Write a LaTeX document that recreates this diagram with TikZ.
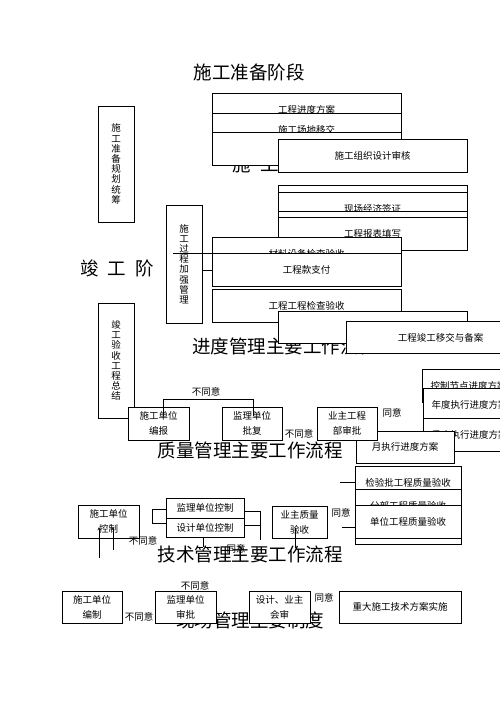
\documentclass[tikz,border=0pt]{standalone}
\usepackage{fontspec}
\setmainfont{Noto Sans CJK SC}
\begin{document}
\begin{tikzpicture}[x=1pt,y=-1pt,
    box/.style={draw, rectangle, fill=white, inner sep=0pt, align=center, line width=0.5pt, font=\fontsize{9.5}{15}\selectfont},
    lbox/.style={box, align=left, text width=172pt, inner xsep=8.5pt, minimum height=33pt},
    vbox/.style={box, minimum width=36pt, font=\fontsize{9.5}{10.2}\selectfont},
    title/.style={inner sep=0pt, font=\fontsize{18.5}{20}\selectfont},
    note/.style={inner sep=0pt, font=\fontsize{9.5}{11}\selectfont}]
    \useasboundingbox (0,0) rectangle (500,706);
    \clip (0,0) rectangle (500,706);

    % titles (under the boxes)
    \node[title] (t0) at (249,72) {施工准备阶段};
    \node[title, anchor=west] (t1) at (232,164) {施\hspace{10pt}工\hspace{10pt}阶\hspace{10pt}段};
    \node[title, anchor=west] (t2) at (80,268) {竣\hspace{9pt}工\hspace{9pt}阶};
    \node[title, anchor=west] (t3) at (192,346) {进度管理主要工作流程};
    \node[title] (t4) at (250,450) {质量管理主要工作流程};
    \node[note] (ty5) at (236,549) {同意};
    \node[title] (t5) at (250,554) {技术管理主要工作流程};
    \node[title] (t6) at (250,620) {现场管理主要制度};

    % preparation stage
    \node[box, minimum width=189pt, minimum height=33pt] (gcjd) at (306.5,109.5) {工程进度方案};
    \node[box, minimum width=189pt, minimum height=33pt] (sgcd) at (306.5,129.5) {施工场地移交};
    \node[box, minimum width=189pt, minimum height=33pt] (tzhs) at (306.5,148.5) {};
    \node[box, minimum width=189pt, minimum height=33pt] (sgzz) at (372.5,155.5) {施工组织设计审核};

    % construction stage
    \node[box, minimum width=189pt, minimum height=33pt] (kb1) at (372.5,201.5) {};
    \node[box, minimum width=189pt, minimum height=33pt] (xcjj) at (372.5,208.5) {现场经济签证};
    \node[box, minimum width=189pt, minimum height=33pt] (kb2) at (372.5,227.5) {};
    \node[box, minimum width=189pt, minimum height=33pt] (gcbb) at (372.5,233.5) {工程报表填写};
    \node[box, minimum width=189pt, minimum height=33pt] (clsb) at (306.5,253.5) {材料设备检查验收};
    \node[box, minimum width=189pt, minimum height=33pt] (gck) at (306.5,270) {工程款支付};
    \node[box, minimum width=189pt, minimum height=33pt] (gcjc) at (306.5,306) {工程工程检查验收};
    \node[box, minimum width=189pt, minimum height=32pt] (kb3) at (372.5,327.5) {};
    \node[box, minimum width=189pt, minimum height=32pt] (gcjg) at (440.5,337.5) {工程竣工移交与备案};

    \node[vbox, minimum height=116pt] (zbgh) at (116,164) {施\\工\\准\\备\\规\\划\\统\\筹};
    \node[vbox, minimum height=118pt] (sggc) at (184,264) {施\\工\\过\\程\\加\\强\\管\\理};
    \node[vbox, minimum height=115pt] (jgys) at (116,360.5) {竣\\工\\验\\收\\工\\程\\总\\结};

    \draw[line width=0.5pt] (gck.north west) -- ++(-39,0);
    \draw[line width=0.5pt] (sggc.east |- gck.west) -- (gck.west);

    % schedule flow
    \node[lbox] (kzjd) at (516.5,385.5) {控制节点进度方案};
    \node[lbox] (ndzx) at (517.5,404.5) {年度执行进度方案};
    \node[lbox] (jdzx) at (517.5,434.5) {季度执行进度方案};
    \node[box, minimum width=98pt, minimum height=32pt] (yzx) at (405,447) {月执行进度方案};
    \node[box, minimum width=61pt, minimum height=33pt] (bz) at (158.5,423.5) {施工单位\\编报};
    \node[box, minimum width=60pt, minimum height=33pt] (jl) at (252,423.5) {监理单位\\批复};
    \node[box, minimum width=60pt, minimum height=33pt] (yzgc) at (347,423.5) {业主工程\\部审批};

    \draw[line width=0.5pt] ([xshift=4.5pt,yshift=8pt]bz.center) |- ([xshift=1pt,yshift=24.5pt]jl.center) -- ([xshift=1pt,yshift=8pt]jl.center);
    \node[note] (n1) at (206,392) {不同意};
    \node[note] (n2) at (299,434) {不同意};
    \node[note] (n3) at (392,413) {同意};

    % quality flow
    \node[box, minimum width=106pt, minimum height=33pt] (jyp) at (408,482.5) {检验批工程质量验收};
    \node[box, minimum width=106pt, minimum height=33pt] (fbgc) at (408,505.5) {分部工程质量验收};
    \node[box, minimum width=106pt, minimum height=33pt] (kb4) at (408,527.5) {};
    \node[box, minimum width=106pt, minimum height=33pt] (dwgc) at (408,521.5) {单位工程质量验收};
    \draw[line width=0.5pt] (jyp.west) -- ++(-15,0);
    \draw[line width=0.5pt] ([yshift=-5.5pt]dwgc.west) -- ++(-13,0);

    \node[box, minimum width=61pt, minimum height=33pt] (sgkz) at (108.5,521.5) {施工单位\\控制};
    \node[box, minimum width=78pt, minimum height=20pt] (jlkz) at (205,508) {监理单位控制};
    \node[box, minimum width=78pt, minimum height=19pt] (sjkz) at (205,527.5) {设计单位控制};
    \node[box, minimum width=55pt, minimum height=32pt] (yzzl) at (299.5,522) {业主质量\\验收};

    \draw[<-, >=stealth, line width=0.5pt] ([xshift=-9.5pt,yshift=-5.5pt]sgkz.center) -- ++(0,31);
    \draw[<-, >=stealth, line width=0.5pt] ([xshift=4.5pt,yshift=-5.5pt]sgkz.center) -- ++(0,23);
    \draw[line width=0.5pt] ([yshift=-1pt]jlkz.west) -- ++(-14,0) |- ([yshift=4pt]sjkz.west);
    \draw[line width=0.5pt] ([yshift=-3pt]jlkz.east) -- ++(16,0) -- ++(0,29);
    \draw[line width=0.5pt] ([yshift=2pt]sjkz.east) -- ++(16,0);
    \draw[line width=0.5pt] ([xshift=-2pt]sjkz.south) -- ++(0,10);
    \draw[line width=0.5pt] ([xshift=-4.5pt,yshift=-6pt]yzzl.center) -- ++(0,20);
    \node[note] (n4) at (143,541) {不同意};
    \node[note] (n5) at (341,513) {同意};

    % site rules
    \node[box, minimum width=60pt, minimum height=32pt] (sgbz) at (92,607) {施工单位\\编制};
    \node[box, minimum width=61pt, minimum height=32pt] (jlsp) at (185.5,607) {监理单位\\审批};
    \node[box, minimum width=61pt, minimum height=32pt] (sjhs) at (279.5,607) {设计、业主\\会审};
    \node[box, minimum width=122pt, minimum height=32pt] (zdjs) at (400,607) {重大施工技术方案实施};
    \node[note] (n6) at (195,586) {不同意};
    \node[note] (n7) at (139,617) {不同意};
    \node[note] (n8) at (324,598) {同意};
\end{tikzpicture}
\end{document}
